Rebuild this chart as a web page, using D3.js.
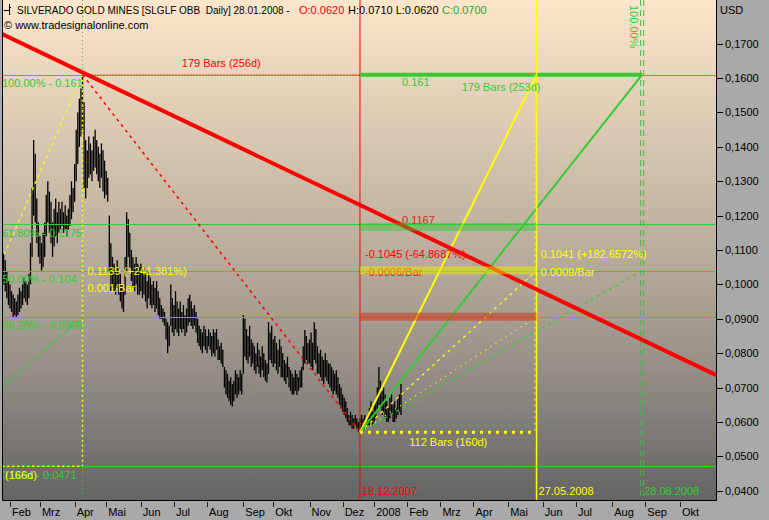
<!DOCTYPE html>
<html><head><meta charset="utf-8">
<script src="https://cdn.jsdelivr.net/npm/d3@7"></script>
<style>
html,body{margin:0;padding:0;background:#A9A9A9;}
svg{display:block;font-family:"Liberation Sans",Arial,sans-serif;font-size:11px;}
svg text{white-space:pre;}
</style></head><body>
<svg id="c" width="769" height="520"></svg>
<script>
// ---------------- data ----------------
const titleMain = "SILVERADO GOLD MINES [SLGLF OBB  Daily] 28.01.2008 -";
const titleOpen = "O:0.0620";
const titleHL = "H:0.0710 L:0.0620";
const titleClose = "C:0.0700";
const copyright = "\u00A9 www.tradesignalonline.com";
const firstDate = "2007-01-26";
const lastDate = "2008-01-28";
const holidays = ["2007-02-19","2007-04-06","2007-05-28","2007-07-04","2007-09-03","2007-11-22","2007-12-25","2008-01-01","2008-01-21"];
const high = [
.109,.107,.104,.101,.100,.098,.097,.096,.095,.097,
.099,.098,.100,.102,.101,.100,.103,.112,.128,.142,
.138,.125,.118,.114,.112,.115,.118,.126,.130,.127,
.124,.118,.122,.125,.121,.124,.122,.124,.121,.123,
.120,.122,.126,.130,.128,.135,.145,.150,.154,.157,
.161,.153,.142,.139,.143,.141,.139,.143,.145,.142,
.140,.138,.141,.139,.136,.133,.131,.120,.112,.108,
.106,.104,.107,.105,.103,.100,.098,.108,.121,.119,
.115,.110,.108,.106,.108,.106,.105,.106,.104,.105,
.103,.101,.104,.102,.100,.101,.099,.101,.098,.096,
.094,.093,.092,.090,.089,.088,.100,.096,.094,.098,
.095,.093,.095,.092,.094,.091,.093,.096,.097,.095,
.093,.094,.092,.090,.088,.087,.086,.088,.087,.085,
.087,.086,.085,.087,.086,.087,.084,.082,.083,.081,
.076,.075,.074,.072,.073,.071,.072,.075,.074,.073,
.075,.074,.091,.090,.087,.085,.088,.084,.083,.082,
.080,.083,.081,.079,.082,.080,.078,.077,.089,.086,
.088,.084,.085,.083,.081,.084,.082,.080,.078,.077,
.079,.076,.075,.074,.073,.075,.074,.073,.075,.076,
.082,.0867,.085,.083,.084,.086,.083,.089,.087,.082,
.080,.081,.079,.078,.080,.078,.077,.077,.076,.075,
.074,.075,.073,.071,.070,.068,.067,.066,.064,.062,
.063,.062,.061,.062,.061,.060,.061,.062,.061,.062,
.060,.062,.064,.066,.063,.065,.066,.070,.076,.072,
.069,.070,.068,.066,.064,.067,.068,.065,.066,.064,
.067,.068,.071];
const low = [
.100,.098,.096,.094,.093,.092,.0905,.091,.0905,.091,
.092,.093,.094,.096,.095,.094,.096,.100,.108,.120,
.118,.112,.108,.106,.104,.105,.108,.114,.118,.115,
.112,.108,.111,.114,.112,.115,.116,.117,.115,.116,
.114,.116,.117,.119,.121,.124,.130,.135,.140,.143,
.145,.128,.125,.128,.131,.132,.130,.133,.134,.132,
.130,.128,.131,.127,.125,.126,.124,.104,.098,.099,
.098,.097,.099,.097,.095,.093,.092,.097,.104,.108,
.105,.101,.099,.098,.100,.097,.097,.098,.096,.097,
.095,.093,.096,.094,.093,.094,.092,.093,.091,.090,
.090,.089,.088,.084,.080,.082,.088,.086,.085,.087,
.086,.085,.087,.086,.087,.085,.086,.088,.089,.088,
.087,.088,.086,.083,.082,.081,.080,.082,.081,.080,
.082,.081,.079,.080,.079,.081,.078,.078,.077,.076,
.070,.068,.067,.066,.065,.0645,.066,.068,.067,.068,
.069,.068,.074,.079,.078,.077,.079,.076,.077,.075,
.074,.076,.074,.073,.075,.073,.072,.0715,.074,.078,
.077,.076,.077,.075,.074,.076,.073,.073,.072,.071,
.073,.070,.069,.068,.068,.069,.0678,.069,.070,.070,
.075,.077,.078,.077,.077,.076,.075,.078,.077,.074,
.074,.073,.072,.071,.073,.072,.071,.070,.069,.068,
.069,.068,.067,.065,.064,.063,.062,.061,.060,.059,
.059,.058,.058,.059,.058,.057,.057,.058,.059,.058,
.058,.059,.059,.060,.059,.060,.061,.063,.065,.064,
.062,.063,.061,.060,.060,.061,.062,.060,.060,.061,
.062,.063,.062];
const monthLabels = ["Feb","Mrz","Apr","Mai","Jun","Jul","Aug","Sep","Okt","Nov","Dez","2008","Feb","Mrz","Apr","Mai","Jun","Jul","Aug","Sep","Okt"];
const priceTicks = [0.04,0.05,0.06,0.07,0.08,0.09,0.10,0.11,0.12,0.13,0.14,0.15,0.16,0.17];
const fibLabels = ["100.00%","61.80%","50.00%","38.20%","0.00%"];
const fibValues = [0.161,0.1175,0.104,0.0906,0.0471];
const fibLowBar = -58;               // start of the left measurement (off chart)
const fibLowBarsLabel = "108 Bars (166d)";
const leftMoveLabels = ["0.1139 (+241.381%)","0.001/Bar"];
const lowDate = "2007-12-18", lowValue = 0.057;
const yellowDate = "2008-05-27", greenDate = "2008-08-28";
const dateLabels = ["18.12.2007","27.05.2008","28.08.2008"];
const barsLabels = ["179 Bars (256d)","179 Bars (253d)","112 Bars (160d)"];
const bandValues = [0.1167,0.1041,0.0906];
const bandLabel = "0.1167";
const downLabels = ["-0.1045 (-64.8687%)","-0.0006/Bar"];
const upLabels = ["0.1041 (+182.6572%)","0.0009/Bar"];
const trendBars = [-2.3, 452];
const trendValues = [0.1731, 0.0736];

// ---------------- calendar ----------------
const parse = d3.utcParse("%Y-%m-%d"), fmt = d3.utcFormat("%Y-%m-%d");
const dates = [];
for (let d = parse(firstDate); dates.length < 470; d = d3.utcDay.offset(d, 1)) {
  const wd = d.getUTCDay();
  if (wd === 0 || wd === 6) continue;
  const s = fmt(d);
  if (s <= lastDate && holidays.includes(s)) continue;
  dates.push(s);
}
const idx = s => dates.indexOf(s);

// ---------------- scales ----------------
const L = 2, R = 716, T = 0, B = 500;
const x = d3.scaleLinear().domain([0, 452]).range([3.69, 716.27]);
const y = d3.scaleLinear().domain([0.04, 0.17]).range([490.7, 43.7]);

const GREEN = "#33CC33", YELLOW = "#FFFF00", RED = "#FF0000";

const svg = d3.select("#c");
const defs = svg.append("defs");
const grad = defs.append("linearGradient").attr("id","bg").attr("x1",0).attr("y1",0).attr("x2",0).attr("y2",1);
[[0,"#FDE6CB"],[0.4,"#C8B9A5"],[0.7,"#9C958C"],[1,"#646464"]].forEach(([o,c]) =>
  grad.append("stop").attr("offset",o).attr("stop-color",c));
defs.append("clipPath").attr("id","clip").append("rect").attr("x",L).attr("y",T).attr("width",R-L).attr("height",B-T);

svg.append("rect").attr("width",769).attr("height",520).attr("fill","#A9A9A9");
svg.append("rect").attr("x",L).attr("y",T).attr("width",R-L).attr("height",B-T).attr("fill","url(#bg)");

const g = svg.append("g").attr("clip-path","url(#clip)");

// price bars
const bars = high.map((h,i) => ({i, h, l: low[i]}));
g.append("g").selectAll("line").data(bars).join("line")
  .attr("x1", d => x(d.i)).attr("x2", d => x(d.i))
  .attr("y1", d => y(d.h)).attr("y2", d => y(d.l))
  .attr("stroke","#000").attr("stroke-width",1.3);

const peakBar = d3.maxIndex(high);
const lowBar = idx(lowDate), yBar = idx(yellowDate), gBar = idx(greenDate);
const line = (b1,v1,b2,v2,col,w,dash) => g.append("line")
  .attr("x1",x(b1)).attr("y1",y(v1)).attr("x2",x(b2)).attr("y2",y(v2))
  .attr("stroke",col).attr("stroke-width",w).attr("stroke-dasharray",dash||null);

// fib horizontal lines (full width)
g.append("g").selectAll("line").data(fibValues).join("line")
  .attr("x1",L).attr("x2",R).attr("y1",d=>Math.round(y(d))+0.5).attr("y2",d=>Math.round(y(d))+0.5)
  .attr("stroke",GREEN).attr("stroke-width",1);

// vertical at peak
g.append("line").attr("x1",x(peakBar)).attr("x2",x(peakBar)).attr("y1",T).attr("y2",B)
  .attr("stroke","#44BB44").attr("stroke-width",1).attr("stroke-dasharray","1,3");
line(peakBar, fibValues[0], peakBar, fibValues[4], YELLOW, 1.5, "2,3");
line(fibLowBar, fibValues[4], peakBar, fibValues[4], YELLOW, 1.5, "2,3");
line(fibLowBar, fibValues[4], peakBar, fibValues[0], YELLOW, 1.3, "3,4");
line(fibLowBar, fibValues[4], peakBar, fibValues[3], GREEN, 1.3, "4,3");

// peak -> low
line(peakBar, fibValues[0], lowBar, lowValue, RED, 1.5, "3,4");
line(peakBar, fibValues[0], lowBar, fibValues[0], "#CC2200", 1, "1,2");
g.append("line").attr("x1",x(lowBar)).attr("x2",x(lowBar)).attr("y1",T).attr("y2",B).attr("stroke",RED).attr("stroke-width",1);

// projection fan
line(lowBar, lowValue, yBar, fibValues[0], YELLOW, 2);
line(lowBar, lowValue, gBar, fibValues[0], GREEN, 2);
line(lowBar, lowValue, yBar, fibValues[2], YELLOW, 1.3, "3,4");
line(lowBar, lowValue, yBar, fibValues[3], YELLOW, 1.3, "1,5");
line(lowBar, lowValue, gBar, fibValues[2], GREEN, 1.3, "3,4");
line(lowBar, fibValues[0], gBar, fibValues[0], GREEN, 4);

// verticals
g.append("line").attr("x1",x(yBar)).attr("x2",x(yBar)).attr("y1",T).attr("y2",B).attr("stroke",YELLOW).attr("stroke-width",1.5);
line(yBar-1, fibValues[0], yBar-1, lowValue, YELLOW, 1, "2,4");
[-1.5,1.5].forEach(o => g.append("line").attr("x1",x(gBar)+o).attr("x2",x(gBar)+o).attr("y1",T).attr("y2",B)
  .attr("stroke","#44BB44").attr("stroke-width",1).attr("stroke-dasharray","6,4"));
line(lowBar, lowValue, yBar, lowValue, YELLOW, 3, "3,5");

// trend line
line(trendBars[0], trendValues[0], trendBars[1], trendValues[1], RED, 4);

// labels under bands
const txt = (px,py,s,col,anchor) => g.append("text").attr("x",px).attr("y",py).attr("fill",col)
  .attr("text-anchor",anchor||"start").text(s);
txt(x(lowBar)+42, y(bandValues[0])-3, bandLabel, "#D02A10");
txt(x(lowBar)+5, y(bandValues[1])-12, downLabels[0], RED);
txt(x(lowBar)+5, y(bandValues[1])+6, downLabels[1], RED);
txt(x(yBar)+4, y(bandValues[1])-12, upLabels[0], YELLOW);
txt(x(yBar)+4, y(bandValues[1])+6, upLabels[1], YELLOW);

// bands
const bandCols = ["rgba(50,200,50,0.45)","rgba(235,235,0,0.5)","rgba(230,30,20,0.5)"];
g.append("g").selectAll("rect").data(bandValues).join("rect")
  .attr("x",x(lowBar)).attr("width",x(yBar)-x(lowBar))
  .attr("y",d=>y(d)-4).attr("height",8).attr("fill",(d,i)=>bandCols[i]);

// other labels
fibLabels.forEach((f,i) => txt(2, y(fibValues[i])+12.5, f+" - "+fibValues[i], GREEN));
txt((x(fibLowBar)+x(peakBar))/2, y(fibValues[4])+13, fibLowBarsLabel, YELLOW, "middle");
txt(x(peakBar)+5, y(fibValues[2])+4, leftMoveLabels[0], YELLOW);
txt(x(peakBar)+5, y(fibValues[2])+21, leftMoveLabels[1], YELLOW);
txt((x(peakBar)+x(lowBar))/2, y(fibValues[0])-8, barsLabels[0], RED, "middle");
txt(x(lowBar)+42, y(fibValues[0])+11, String(fibValues[0]), GREEN);
txt((x(lowBar)+x(gBar))/2, y(fibValues[0])+16, barsLabels[1], GREEN, "middle");
txt((x(lowBar)+x(yBar))/2, y(lowValue)+14, barsLabels[2], YELLOW, "middle");
txt(x(lowBar)+2, 495, dateLabels[0], RED);
txt(x(yBar)+2, 495, dateLabels[1], YELLOW);
txt(x(gBar)+2, 495, dateLabels[2], GREEN);
g.append("text").attr("transform",`translate(${x(gBar)-12},5) rotate(90)`).attr("fill",GREEN).text("100.00%");

// frame
svg.append("path").attr("d",`M${L+0.5},${T} V${B+0.5} H${R+0.5} V${T}`).attr("fill","none").attr("stroke","#000").attr("stroke-width",1);

// right axis
const fmtP = d3.format(".4f");
const ax = svg.append("g");
ax.selectAll("line").data(priceTicks).join("line")
  .attr("x1",R+1).attr("x2",R+7).attr("y1",d=>Math.round(y(d))+0.5).attr("y2",d=>Math.round(y(d))+0.5).attr("stroke","#000");
ax.selectAll("text").data(priceTicks).join("text")
  .attr("x",R+9).attr("y",d=>y(d)+4).attr("fill","#000").text(d=>fmtP(d).replace(".",","));
svg.append("text").attr("x",R+4).attr("y",14).attr("fill","#000").text("USD");

// bottom axis
const monthIdx = [];
for (let i = 1; i < dates.length; i++) if (dates[i].slice(5,7) !== dates[i-1].slice(5,7)) monthIdx.push(i);
const ticks = monthIdx.slice(0, monthLabels.length).map((i,k) => ({i, label: monthLabels[k]})).filter(d => x(d.i) < R);
const bx = svg.append("g");
bx.selectAll("line").data(ticks).join("line")
  .attr("x1",d=>Math.round(x(d.i))+0.5).attr("x2",d=>Math.round(x(d.i))+0.5).attr("y1",502).attr("y2",507).attr("stroke","#222");
bx.selectAll("text").data(ticks).join("text")
  .attr("x",d=>x(d.i)+2).attr("y",516).attr("fill","#000").text(d=>d.label);

// title: font shrunk until each segment fits its slot
svg.append("path").attr("d","M3.5,10.5 H9.5 M9.5,4 V15 M9.5,7.5 H11").attr("stroke","#000").attr("fill","none");
const fit = (px, py, s, col, slot) => {
  const t = svg.append("text").attr("x",px).attr("y",py).attr("fill",col).text(s);
  let fs = 11;
  while (t.node().getComputedTextLength() > slot && fs > 8) { fs -= 0.25; t.style("font-size", fs + "px"); }
  return t;
};
fit(17, 14, titleMain, "#000", 278);
fit(299, 14, titleOpen, RED, 46);
fit(348, 14, titleHL, "#000", 91);
fit(442, 14, titleClose, "#22AA22", 45);
fit(4, 29, copyright, "#000", 146);
</script>
</body></html>
